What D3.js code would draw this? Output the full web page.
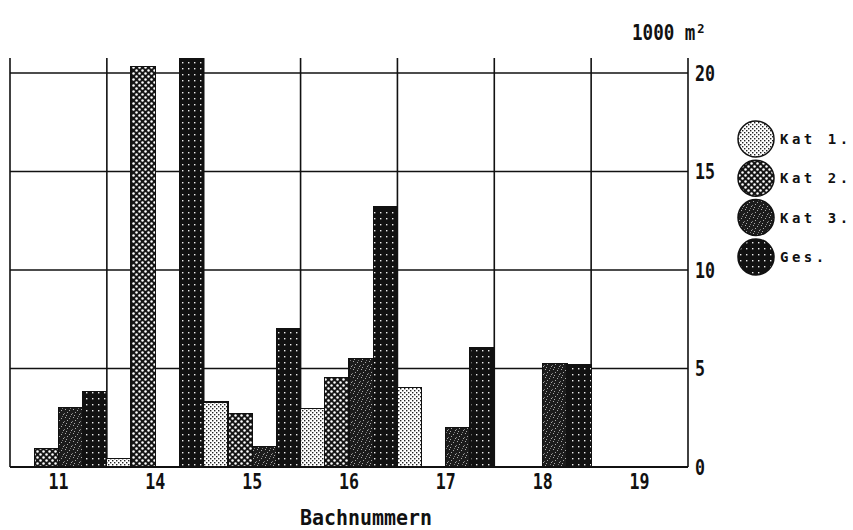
<!DOCTYPE html>
<html><head><meta charset="utf-8">
<script src="https://cdn.jsdelivr.net/npm/d3@7"></script>
<style>
html,body{margin:0;padding:0;background:#fff;}
svg{display:block;}
.mono{font-family:"DejaVu Sans Mono",monospace;font-weight:bold;fill:#111;}
</style></head>
<body>
<script>
// ---- data ----
const categories = ["11","14","15","16","17","18","19"];
const seriesNames = ["Kat 1.","Kat 2.","Kat 3.","Ges."];
const kat1 = [0, 0.45, 3.3, 2.95, 4.05, 0, 0];
const kat2 = [0.95, 20.35, 2.7, 4.55, 0, 0, 0];
const kat3 = [3.0, 0, 1.05, 5.5, 2.0, 5.25, 0];
const ges  = [3.85, 20.75, 7.05, 13.2, 6.05, 5.2, 0];
const yTicks = [0, 5, 10, 15, 20];
const yTickLabels = ["0","5","10","15","20"];
const unitLabel = "1000 m²";
const xTitle = "Bachnummern";

const W = 853, H = 530;
const svg = d3.select("body").append("svg").attr("width", W).attr("height", H);
const defs = svg.append("defs");

// patterns
function pat(id, size, bg, fg, dots, round) {
  const p = defs.append("pattern").attr("id", id).attr("patternUnits", "userSpaceOnUse")
    .attr("width", size).attr("height", size);
  p.append("rect").attr("width", size).attr("height", size).attr("fill", bg);
  dots.forEach(d => {
    if (round) p.append("circle").attr("cx", d[0]).attr("cy", d[1]).attr("r", d[2]).attr("fill", fg);
    else p.append("rect").attr("x", d[0]).attr("y", d[1]).attr("width", d[2]).attr("height", d[2]).attr("fill", fg);
  });
}
pat("p1", 4, "#fff", "#222", [[0,0,1.4],[2,2,1.4]]);
pat("p2", 6, "#161616", "#fff", [[1.5,1.5,1.25],[4.5,4.5,1.25]], true);
pat("p3", 8, "#1c1c1c", "#aaa", [[1,1,1],[5,2,1],[3,4,1],[7,6,1],[2,7,1],[6,0,0.8],[0,5,0.8]]);
pat("p4", 6, "#111", "#eee", [[2,2,1.4]]);
const fills = ["url(#p1)","url(#p2)","url(#p3)","url(#p4)"];
const seriesVals = [kat1, kat2, kat3, ges];

// scales
const x = d3.scaleBand().domain(categories).range([10, 688]).padding(0);
const xs = d3.scaleBand().domain(seriesNames).range([0, x.bandwidth()]).padding(0);
const y = d3.scaleLinear().domain([0, 20]).range([467, 73]);
const yTop = 58;

// grid
const g = svg.append("g");
g.selectAll(".hg").data(yTicks).enter().append("line")
  .attr("x1", 10).attr("x2", 688).attr("y1", d => y(d)).attr("y2", d => y(d))
  .attr("stroke", "#111").attr("stroke-width", 1.6);
const vlines = categories.map(c => x(c)).concat([x.range()[1]]);
g.selectAll(".vg").data(vlines).enter().append("line")
  .attr("x1", d => d).attr("x2", d => d).attr("y1", yTop).attr("y2", y(0))
  .attr("stroke", "#111").attr("stroke-width", 1.6);

// bars
const data = [];
categories.forEach((c, i) => seriesNames.forEach((s, j) => {
  data.push({c, s, j, v: seriesVals[j][i]});
}));
svg.append("g").selectAll("rect").data(data.filter(d => d.v > 0)).enter().append("rect")
  .attr("x", d => x(d.c) + xs(d.s))
  .attr("width", xs.bandwidth())
  .attr("y", d => y(d.v))
  .attr("height", d => y(0) - y(d.v))
  .attr("fill", d => fills[d.j])
  .attr("stroke", "#111").attr("stroke-width", 1.2)
  .attr("shape-rendering", "crispEdges");

// redraw baseline on top
svg.append("line").attr("x1", 10).attr("x2", 688).attr("y1", y(0)).attr("y2", y(0))
  .attr("stroke", "#111").attr("stroke-width", 1.8);

// right axis labels
const yAxis = d3.axisRight(y).tickValues(yTicks).tickSize(0).tickFormat((d, i) => yTickLabels[i]);
const ya = svg.append("g").attr("transform", "translate(688,0)").call(yAxis);
ya.select(".domain").remove();
ya.selectAll("text").attr("x", 7).attr("font-size", 21)
  .style("font-family", '"DejaVu Sans Mono",monospace').style("font-weight", "bold")
  .attr("fill", "#111").attr("dy", "0.35em")
  .attr("textLength", d => String(d).length * 10).attr("lengthAdjust", "spacingAndGlyphs");

// x labels
const xAxis = d3.axisBottom(x).tickSize(0);
const xa = svg.append("g").attr("transform", `translate(0,${y(0)})`).call(xAxis);
xa.select(".domain").remove();
xa.selectAll("text").attr("y", 7).attr("dy", "0.71em").attr("font-size", 21)
  .style("font-family", '"DejaVu Sans Mono",monospace').style("font-weight", "bold")
  .attr("fill", "#111")
  .attr("textLength", 20).attr("lengthAdjust", "spacingAndGlyphs");

// titles
svg.append("text").attr("class", "mono").attr("x", 632).attr("y", 40).attr("font-size", 21)
  .attr("textLength", 74).attr("lengthAdjust", "spacingAndGlyphs").text(unitLabel);
svg.append("text").attr("class", "mono").attr("x", 366).attr("y", 525).attr("font-size", 21)
  .attr("text-anchor", "middle")
  .attr("textLength", 132).attr("lengthAdjust", "spacingAndGlyphs").text(xTitle);

// legend
const lg = svg.append("g");
seriesNames.forEach((s, j) => {
  const cy = 139 + j * 39.3;
  lg.append("circle").attr("cx", 756).attr("cy", cy).attr("r", 18)
    .attr("fill", fills[j]).attr("stroke", "#111").attr("stroke-width", 1.5);
  lg.append("text").attr("class", "mono").attr("x", 780).attr("y", cy + 5)
    .attr("font-size", 14).attr("letter-spacing", 3.5).text(s);
});
</script>
</body></html>
